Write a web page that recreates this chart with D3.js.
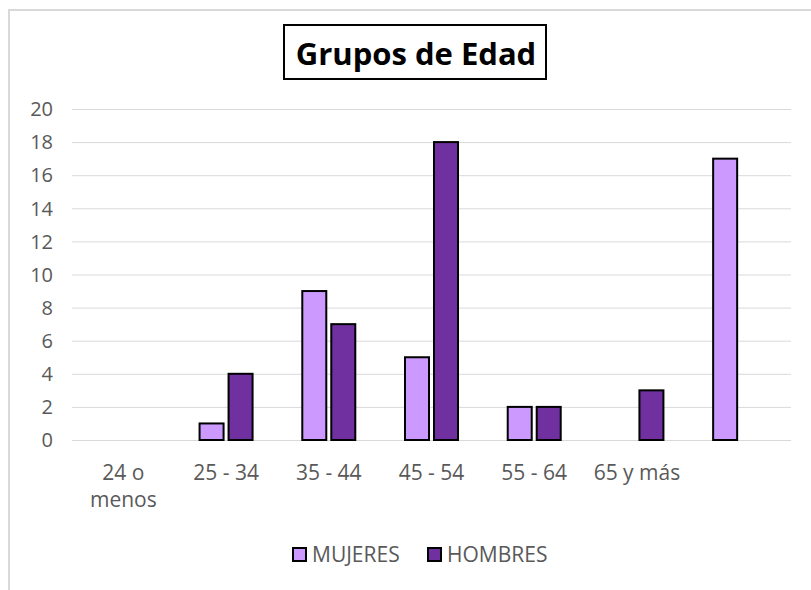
<!DOCTYPE html>
<html>
<head>
<meta charset="utf-8">
<script src="https://cdn.jsdelivr.net/npm/d3@7"></script>
<style>
  body { margin: 0; background: #fff; }
  text { font-family: "Open Sans", sans-serif; }
</style>
</head>
<body>
<svg id="chart" width="811" height="590"></svg>
<script>
const categories = ['24 o|menos', '25 - 34', '35 - 44', '45 - 54', '55 - 64', '65 y más', '']
const series = ['MUJERES', 'HOMBRES']
const mujeres = [0, 1, 9, 5, 2, 0, 17]
const hombres = [0, 4, 7, 18, 2, 3, 0]
const yTicks = [0, 2, 4, 6, 8, 10, 12, 14, 16, 18, 20]
const colors = ['#cc99ff', '#7030a0']

const svg = d3.select('#chart')
const values = [mujeres, hombres]

// outer chart frame
svg.append('rect')
  .attr('x', 9).attr('y', 10)
  .attr('width', 830).attr('height', 600)
  .attr('fill', '#fff')
  .attr('stroke', '#d9d9d9')
  .attr('stroke-width', 2)

const plot = { left: 72, right: 791, top: 109, bottom: 440 }

const x0 = d3.scaleBand()
  .domain(d3.range(categories.length))
  .range([plot.left, plot.right])
  .paddingInner(0.484)
  .paddingOuter(0.242)

const x1 = d3.scaleBand()
  .domain(series)
  .range([0, x0.bandwidth()])
  .paddingInner(0.172)

const y = d3.scaleLinear()
  .domain([0, 20])
  .range([plot.bottom, plot.top])

// gridlines
svg.append('g')
  .selectAll('line')
  .data(yTicks)
  .join('line')
  .attr('x1', plot.left).attr('x2', plot.right)
  .attr('y1', d => y(d) + 0.5).attr('y2', d => y(d) + 0.5)
  .attr('stroke', '#d9d9d9')
  .attr('stroke-width', 1)

// y axis labels
svg.append('g')
  .selectAll('text')
  .data(yTicks)
  .join('text')
  .attr('x', 53)
  .attr('y', d => y(d))
  .attr('dy', '0.36em')
  .attr('text-anchor', 'end')
  .attr('font-size', 20)
  .attr('fill', '#595959')
  .text(d => d)

// bars
const bars = []
categories.forEach((c, i) => {
  series.forEach((s, j) => {
    if (values[j][i] > 0) bars.push({ i, s, j, v: values[j][i] })
  })
})

svg.append('g')
  .selectAll('rect')
  .data(bars)
  .join('rect')
  .attr('x', d => x0(d.i) + x1(d.s))
  .attr('y', d => y(d.v))
  .attr('width', x1.bandwidth())
  .attr('height', d => y(0) - y(d.v))
  .attr('fill', d => colors[d.j])
  .attr('stroke', '#000')
  .attr('stroke-width', 2)

// x labels
const xl = svg.append('g')
  .selectAll('text')
  .data(categories)
  .join('text')
  .attr('x', (d, i) => x0(i) + x0.bandwidth() / 2)
  .attr('y', 480)
  .attr('text-anchor', 'middle')
  .attr('font-size', 21)
  .attr('fill', '#595959')
xl.selectAll('tspan')
  .data(d => d.split('|'))
  .join('tspan')
  .attr('x', function () { return this.parentNode.getAttribute('x') })
  .attr('dy', (d, k) => k === 0 ? 0 : 27)
  .text(d => d)

// title with box
svg.append('rect')
  .attr('x', 284).attr('y', 25)
  .attr('width', 262).attr('height', 54)
  .attr('fill', '#fff')
  .attr('stroke', '#000')
  .attr('stroke-width', 2)
svg.append('text')
  .attr('x', 416)
  .attr('y', 65)
  .attr('text-anchor', 'middle')
  .attr('font-size', 31)
  .attr('font-weight', 'bold')
  .attr('fill', '#000')
  .text('Grupos de Edad')

// legend
const legendX = [293, 428]
const legend = svg.append('g')
  .selectAll('g')
  .data(series)
  .join('g')
  .attr('transform', (d, i) => `translate(${legendX[i]}, 548)`)
legend.append('rect')
  .attr('width', 13).attr('height', 13)
  .attr('fill', (d, i) => colors[i])
  .attr('stroke', '#000')
  .attr('stroke-width', 2)
legend.append('text')
  .attr('x', 19)
  .attr('y', 14)
  .attr('font-size', 21)
  .attr('fill', '#595959')
  .text(d => d)
</script>
</body>
</html>
